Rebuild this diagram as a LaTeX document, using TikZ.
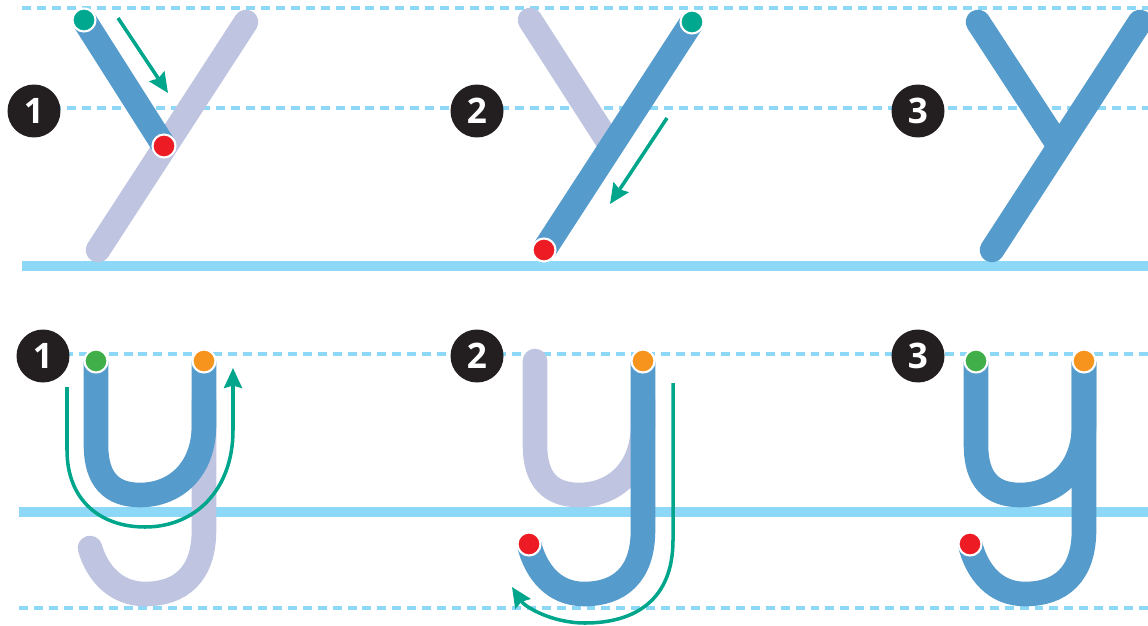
\documentclass[tikz,border=0pt]{standalone}
\usepackage{fontspec}
\setmainfont{Open Sans}
\usetikzlibrary{arrows.meta}
\definecolor{letterblue}{RGB}{85,155,203}
\definecolor{lettergrey}{RGB}{191,196,224}
\definecolor{guideblue}{RGB}{141,215,247}
\definecolor{arrowteal}{RGB}{0,166,140}
\definecolor{dotteal}{RGB}{0,168,143}
\definecolor{dotgreen}{RGB}{64,174,73}
\definecolor{dotorange}{RGB}{247,148,29}
\definecolor{dotred}{RGB}{237,28,36}
\definecolor{numblack}{RGB}{35,31,32}

\begin{document}
\begin{tikzpicture}[x=0.02cm,y=-0.02cm,
  guide/.style={guideblue,line width=1.8pt,dash pattern=on 5.1pt off 3.4pt},
  baseline/.style={guideblue,line width=5.2pt},
  inkblue/.style={letterblue,line width=14pt},
  inkgrey/.style={lettergrey,line width=14pt,line cap=round},
  dotmark/.style={circle,fill=#1,draw=white,line width=1.2pt,minimum size=0.46cm,inner sep=0pt},
  numdot/.style={circle,fill=numblack,minimum size=1.06cm,inner sep=0pt,text=white,font=\fontsize{20}{20}\selectfont\bfseries},
  trace/.style={arrowteal,line width=2pt,-{Stealth[length=0.4cm,width=0.36cm,inset=0.05cm]}}]
\useasboundingbox (0,0) rectangle (1148,625);
\clip (0,0) rectangle (1148,625);

\draw[guide] (22,8) -- (1148,8);
\draw[guide] (22,108) -- (1148,108);
\draw[baseline] (22,266) -- (1148,266);
\draw[guide] (19,354) -- (1148,354);
\draw[baseline] (19,512) -- (1148,512);
\draw[guide] (19,608) -- (1148,608);

\node[numdot] (N1) at (34,111) {1};
\node[numdot] (N2) at (477,111) {2};
\node[numdot] (N3) at (918,111) {3};
\node[numdot] (M1) at (43,356) {1};
\node[numdot] (M2) at (477,356) {2};
\node[numdot] (M3) at (918,356) {3};

\begin{scope}
\coordinate (A1) at (98,250);
\coordinate (B1) at (246,22);
\coordinate (G1) at (84,20);
\coordinate (R1) at (164,146);
\coordinate (S1) at (118,18);
\coordinate (T1) at (168,93);
\draw[inkgrey] (A1) -- (B1);
\draw[inkblue] (G1) -- (R1);
\node[dotmark=dotteal] (g1) at (G1) {};
\node[dotmark=dotred] (r1) at (R1) {};
\draw[trace] (S1) -- (T1);
\end{scope}

\begin{scope}[shift={(446,0)}]
\coordinate (A2) at (98,250);
\coordinate (B2) at (246,22);
\coordinate (C2) at (84,20);
\coordinate (J2) at (165,146);
\coordinate (S2) at (221,118);
\coordinate (T2) at (164,204);
\draw[inkgrey] (C2) -- (J2);
\draw[inkblue] (A2) -- (B2);
\node[dotmark=dotred] (r2) at (A2) {};
\node[dotmark=dotteal] (g2) at (B2) {};
\draw[trace] (S2) -- (T2);
\end{scope}

\begin{scope}[shift={(894,0)}]
\coordinate (A3) at (98,250);
\coordinate (B3) at (246,22);
\coordinate (C3) at (84,22);
\coordinate (J3) at (165,146);
\draw[inkblue,line cap=round] (C3) -- (J3);
\draw[inkblue,line cap=round] (A3) -- (B3);
\end{scope}

\begin{scope}
\coordinate (U1) at (96,361);
\coordinate (V1) at (204,361);
\coordinate (H1) at (90,548);
\coordinate (P1) at (67,387);
\coordinate (Q1) at (233,368);
\draw[inkgrey] (204,400) -- (204,530) .. controls (204,575) and (180,594) .. (145,594)
  .. controls (115,594) and (97,572) .. (H1);
\draw[inkblue] (U1) -- (96,445) .. controls (96,480) and (112,495) .. (140,495)
  .. controls (175,495) and (204,470) .. (204,425) -- (V1);
\node[dotmark=dotgreen] (u1) at (U1) {};
\node[dotmark=dotorange] (v1) at (V1) {};
\draw[trace] (P1) -- (67,450) .. controls (67,500) and (100,527) .. (145,527)
  .. controls (195,527) and (233,490) .. (233,430) -- (Q1);
\end{scope}

\begin{scope}[shift={(439,0)}]
\coordinate (U2) at (96,361);
\coordinate (V2) at (204,361);
\coordinate (H2) at (90,544);
\coordinate (P2) at (234,383);
\coordinate (Q2) at (73,587);
\draw[inkgrey] (U2) -- (96,445) .. controls (96,480) and (112,495) .. (140,495)
  .. controls (175,495) and (204,470) .. (204,425) -- (204,400);
\draw[inkblue] (V2) -- (204,530) .. controls (204,575) and (180,594) .. (145,594)
  .. controls (115,594) and (97,572) .. (H2);
\node[dotmark=dotorange] (v2) at (V2) {};
\node[dotmark=dotred] (h2) at (H2) {};
\draw[trace] (P2) -- (234,540) .. controls (234,600) and (196,623) .. (146,623)
  .. controls (113,623) and (86,607) .. (Q2);
\end{scope}

\begin{scope}[shift={(880,0)}]
\coordinate (U3) at (96,361);
\coordinate (V3) at (204,361);
\coordinate (H3) at (90,544);
\draw[inkblue] (U3) -- (96,445) .. controls (96,480) and (112,495) .. (140,495)
  .. controls (175,495) and (204,470) .. (204,425) -- (V3);
\draw[inkblue] (V3) -- (204,530) .. controls (204,575) and (180,594) .. (145,594)
  .. controls (115,594) and (97,572) .. (H3);
\node[dotmark=dotgreen] (u3) at (U3) {};
\node[dotmark=dotorange] (v3) at (V3) {};
\node[dotmark=dotred] (h3) at (H3) {};
\end{scope}
\end{tikzpicture}
\end{document}
